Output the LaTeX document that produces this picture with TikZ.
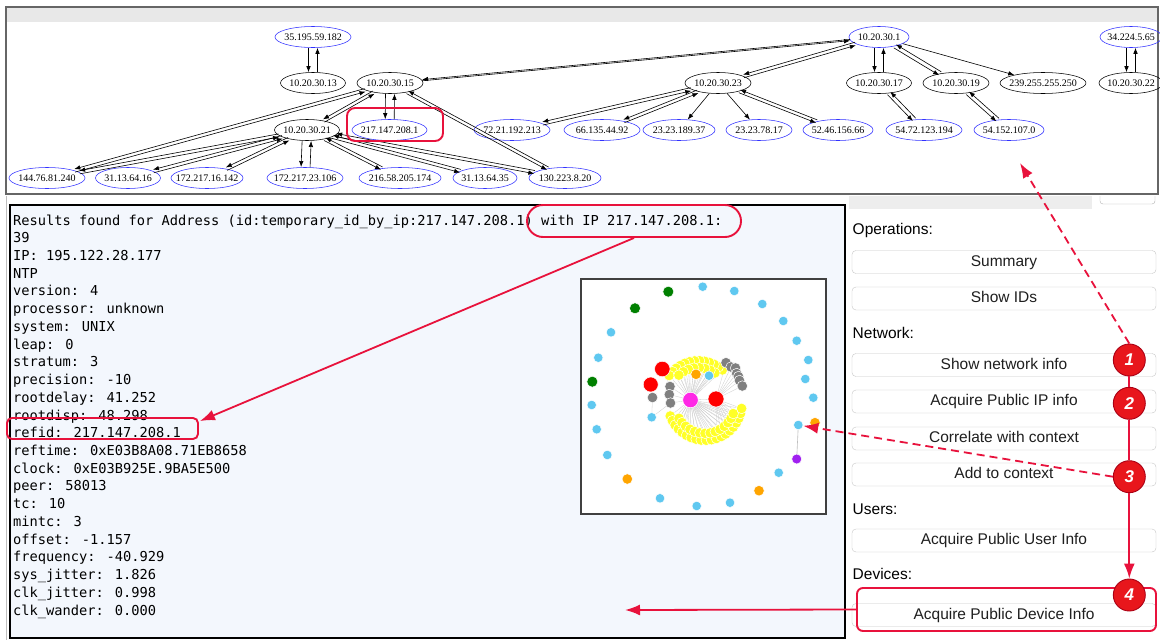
\documentclass[tikz,border=0pt]{standalone}
\usepackage{fontspec}
\setmainfont{Liberation Sans}
\newfontfamily\graphfont{Liberation Serif}
\newfontfamily\monofont{DejaVu Sans Mono}
\usetikzlibrary{arrows.meta,shapes.geometric,calc}
\pgfdeclarelayer{bg}
\pgfdeclarelayer{edges}
\pgfsetlayers{bg,edges,main}
\definecolor{hl}{RGB}{232,18,60}
\definecolor{gblue}{RGB}{50,50,255}
\definecolor{panelbg}{RGB}{243,247,253}
\definecolor{lbc}{RGB}{95,200,240}
\definecolor{grc}{RGB}{0,128,0}
\definecolor{orc}{RGB}{255,165,0}
\definecolor{puc}{RGB}{160,32,240}
\definecolor{yec}{RGB}{255,255,40}
\definecolor{gyc}{RGB}{128,128,128}
\definecolor{rdc}{RGB}{255,0,0}
\definecolor{mgc}{RGB}{255,40,230}
\definecolor{badgefill}{RGB}{232,22,28}
\definecolor{badgeedge}{RGB}{170,0,20}
\newcommand\bidir[3][1.6]{%
  \draw[gedge] let \p1=($(#3)-(#2)$), \n1={atan2(\y1,\x1)}, \n2={\n1+180}, \n3={\n1-90} in
    ([shift={(\n3:#1pt)}]#2.\n1) -- ([shift={(\n3:#1pt)}]#3.\n2);
  \draw[gedge] let \p1=($(#3)-(#2)$), \n1={atan2(\y1,\x1)}, \n2={\n1+180}, \n3={\n1+90} in
    ([shift={(\n3:#1pt)}]#3.\n2) -- ([shift={(\n3:#1pt)}]#2.\n1);
}
\begin{document}
\begin{tikzpicture}[x=1pt,y=-1pt,
  gk/.style={ellipse,draw=black,line width=0.55pt,inner xsep=-12pt,inner ysep=-6pt,minimum height=21pt,minimum width=#1,font=\graphfont\fontsize{10}{10}\selectfont},
  gb/.style={gk={#1},draw=gblue},
  gedge/.style={-{Latex[length=6pt,width=4.5pt]},line width=0.6pt},
  mono/.style={anchor=base west,inner sep=0pt,font=\monofont\fontsize{13.7}{16}\selectfont},
  lbl/.style={anchor=base west,inner sep=0pt,font=\fontsize{15.5}{18}\selectfont},
  btn/.style={draw=black!22,fill=white,rounded corners=4pt,minimum width=304pt,minimum height=23pt,inner sep=0pt,text height=11.3pt,text depth=3.3pt,font=\fontsize{15.5}{18}\selectfont,text=black!88},
  badge/.style={circle,fill=badgefill,draw=badgeedge,line width=0.9pt,minimum size=32pt,inner sep=0pt,text=white,font=\bfseries\itshape\fontsize{17}{17}\selectfont},
  hlbox/.style={draw=hl,line width=1.9pt},
  redline/.style={draw=hl,line width=1.8pt},
  redarrow/.style={redline,-{Latex[length=15pt,width=11pt]}},
  reddash/.style={redarrow,dash pattern=on 8pt off 5pt},
  dot/.style 2 args={circle,inner sep=0pt,minimum size=#1,fill=#2,draw=white,line width=0.5pt},
  fan/.style={draw=black!20,line width=0.3pt}
]
\useasboundingbox (0,0) rectangle (1160,640);
% ---------- panels ----------
\begin{pgfonlayer}{bg}
  \fill[white] (0,0) rectangle (1160,640);
  \fill[black!9] (6,8) rectangle (1158,22);
  \draw[black!60,line width=1.3pt] (6,7) rectangle (1158,194);
  \draw[black!25,line width=0.8pt] (6,196) -- (6,640);
  \fill[black!7] (849,196) rectangle (1092,209);
  \draw[black!30,rounded corners=3pt] (1100,196) -- (1100,204) -- (1155,204) -- (1155,196);
  \filldraw[fill=panelbg,draw=black,line width=1.6pt] (10,205) rectangle (845,638);
  \filldraw[fill=white,draw=black!75,line width=1.2pt] (581,279) rectangle (826,514);
\end{pgfonlayer}
% ---------- top graph ----------
\node[gb=76] (n35) at (313,37) {35.195.59.182};
\node[gk=65] (n13) at (313,83) {10.20.30.13};
\node[gk=66] (n15) at (390,83) {10.20.30.15};
\node[gb=75] (n217) at (389.5,130) {217.147.208.1};
\node[gk=65] (n21) at (307,130) {10.20.30.21};
\node[gb=76] (n144) at (47,178) {144.76.81.240};
\node[gb=65] (n3116) at (128,178) {31.13.64.16};
\node[gb=72] (n16142) at (207,178) {172.217.16.142};
\node[gb=76] (n23106) at (305,178) {172.217.23.106};
\node[gb=82] (n216) at (400,178) {216.58.205.174};
\node[gb=64] (n3135) at (485,178) {31.13.64.35};
\node[gb=72] (n130) at (565,178) {130.223.8.20};
\node[gk=66] (n23) at (718,83) {10.20.30.23};
\node[gb=76] (n72) at (512,130) {72.21.192.213};
\node[gb=76] (n66) at (602,130) {66.135.44.92};
\node[gb=72] (n189) at (679,130) {23.23.189.37};
\node[gb=66] (n78) at (759,130) {23.23.78.17};
\node[gb=70] (n52) at (838,130) {52.46.156.66};
\node[gb=60] (n1) at (879,37) {10.20.30.1};
\node[gk=65] (n17) at (879,83) {10.20.30.17};
\node[gk=66] (n19) at (956,83) {10.20.30.19};
\node[gk=86] (n239) at (1043,83) {239.255.255.250};
\node[gb=76] (n54a) at (924,130) {54.72.123.194};
\node[gb=70] (n54b) at (1009,130) {54.152.107.0};
\node[gb=62] (n34) at (1131,37) {34.224.5.65};
\node[gk=64] (n22) at (1131,83) {10.20.30.22};
\bidir[4.5]{n35}{n13}
\bidir[4.5]{n15}{n217}
\bidir[4.5]{n21}{n23106}
\bidir[4.5]{n1}{n17}
\bidir[4.5]{n34}{n22}
\bidir[0.6]{n1}{n15}
\bidir{n15}{n21}
\bidir{n15}{n144}
\bidir{n15}{n130}
\bidir{n21}{n144}
\bidir{n21}{n3116}
\bidir{n21}{n16142}
\bidir{n21}{n216}
\bidir{n21}{n3135}
\bidir{n21}{n130}
\bidir{n1}{n23}
\bidir{n23}{n72}
\bidir{n23}{n66}
\bidir{n23}{n52}
\bidir[2]{n1}{n19}
\bidir[2]{n17}{n54a}
\bidir[2]{n19}{n54b}
\draw[gedge] (n1) -- (n239);
\draw[gedge] (n23) -- (n189);
\draw[gedge] (n23) -- (n78);
\node[hlbox,rounded corners=8pt,minimum width=96pt,minimum height=33pt] (box217) at (395,124.5) {};
% ---------- text panel ----------
\foreach \t [count=\k from 0] in {
 {Results found for Address (id:temporary\_id\_by\_ip:217.147.208.1) with IP 217.147.208.1:},
 {39},{IP: 195.122.28.177},{NTP},{version: 4},{processor: unknown},{system: UNIX},
 {leap: 0},{stratum: 3},{precision: -10},{rootdelay: 41.252},{rootdisp: 48.298},
 {refid: 217.147.208.1},{reftime: 0xE03B8A08.71EB8658},{clock: 0xE03B925E.9BA5E500},
 {peer: 58013},{tc: 10},{mintc: 3},{offset: -1.157},{frequency: -40.929},
 {sys\_jitter: 1.826},{clk\_jitter: 0.998},{clk\_wander: 0.000}}
  \node[mono] (t\k) at (13,{225+17.73*\k}) {\t};
\node[hlbox,rounded corners=16pt,minimum width=214pt,minimum height=32pt] (ipbox) at (634,221) {};
\node[hlbox,rounded corners=5pt,minimum width=191pt,minimum height=21pt] (refbox) at (102.5,428.5) {};
% ---------- inset graph ----------
\foreach \px/\py/\cc/\ss [count=\i] in {
 668.3/291.7/grc/11pt, 702.7/286.7/lbc/9.5pt, 734.3/291/lbc/9.5pt, 762.3/304/lbc/9.5pt,
 783.3/321/lbc/9.5pt, 796.7/340.7/lbc/9.5pt, 808.3/360/lbc/9.5pt, 805.3/379/lbc/9.5pt,
 813.3/397.7/lbc/9.5pt, 815/422.7/orc/10.5pt, 798.3/425/lbc/9.5pt, 796.7/459/puc/10pt,
 778.7/472.7/lbc/9.5pt, 759/490.7/orc/10.5pt, 730/502.7/lbc/9.5pt, 696.7/506/lbc/9.5pt,
 660/498.3/lbc/9.5pt, 627.3/479/orc/10.5pt, 607.3/455/lbc/9.5pt, 596.7/429.3/lbc/9.5pt,
 591.7/405/lbc/9.5pt, 592.3/381.7/grc/11pt, 598.3/357.7/lbc/9.5pt, 611/332.3/lbc/9.5pt,
 635/308.3/grc/11pt}
  \node[dot={\ss}{\cc}] (o\i) at (\px,\py) {};
\foreach \a [count=\i] in {48,56,...,144}
  \node[dot={10.5pt}{yec}] (yt\i) at ($(698.3,396.7)+(\a:36pt)$) {};
\foreach \a [count=\i] in {55,66,...,132}
  \node[dot={10.5pt}{yec}] (yu\i) at ($(698.3,396.7)+(\a:29pt)$) {};
\foreach \a [count=\i] in {-160,-152,...,-8}
  \node[dot={10.5pt}{yec}] (yb\i) at ($(705,403.3)+(\a:37pt)$) {};
\foreach \a [count=\i] in {-150,-140,...,-20}
  \node[dot={10.5pt}{yec}] (yc\i) at ($(705,403.3)+(\a:30pt)$) {};
\foreach \px/\py [count=\i] in {726/362.7, 731/367, 735.5/368, 736.7/373.5, 738.5/376.5, 739.5/380.5, 742.3/386}
  \node[dot={10.5pt}{gyc}] (gg\i) at (\px,\py) {};
\node[dot={10.5pt}{gyc}] (g1) at (670,386.5) {};
\node[dot={10.5pt}{gyc}] (g2) at (669.3,394.5) {};
\node[dot={10.5pt}{gyc}] (g3) at (652.5,397.5) {};
\node[dot={10.5pt}{gyc}] (g4) at (670.5,403) {};
\node[dot={9.5pt}{lbc}] (lb1) at (651.7,417.3) {};
\node[dot={10.5pt}{orc}] (or1) at (696,374.3) {};
\node[dot={9.5pt}{lbc}] (lb2) at (709,375.7) {};
\node[dot={15.5pt}{rdc}] (r1) at (662.3,369) {};
\node[dot={15pt}{rdc}] (r2) at (650.7,384.5) {};
\node[dot={15.5pt}{mgc}] (mag) at (690.5,400) {};
\node[dot={16pt}{rdc}] (r3) at (716,399) {};
\begin{pgfonlayer}{edges}
  \foreach \i in {1,...,13} \draw[fan] (mag) -- (yt\i);
  \foreach \i in {1,...,8} \draw[fan] (mag) -- (yu\i);
  \foreach \i in {1,...,20} \draw[fan] (mag) -- (yb\i);
  \foreach \i in {1,...,14} \draw[fan] (mag) -- (yc\i);
  \foreach \i in {1,...,7} \draw[fan] (r3) -- (gg\i);
  \foreach \i in {12,...,20} \draw[fan] (r3) -- (yb\i);
  \foreach \n in {g1,g2,g4,or1,lb2,r3} \draw[fan] (mag) -- (\n);
  \draw[fan] (g3) -- (lb1);
  \draw[fan] (lb1) -- (g4);
  \draw[fan] (r1) -- (g1);
  \draw[fan] (r2) -- (g3);
  \draw[black!25,line width=0.6pt] (o11) -- (o12);
\end{pgfonlayer}
% ---------- right panel ----------
\node[lbl] (lops) at (852.5,234) {Operations:};
\node[btn] (bsum) at (1004,262) {Summary};
\node[btn] (bids) at (1004,298.5) {Show IDs};
\node[lbl] (lnet) at (852.5,338) {Network:};
\node[btn] (bnet) at (1004,365) {Show network info};
\node[btn] (bip) at (1004,401.5) {Acquire Public IP info};
\node[btn] (bcor) at (1004,438.5) {Correlate with context};
\node[btn] (badd) at (1004,474.5) {Add to context};
\node[lbl] (lusr) at (852.5,514) {Users:};
\node[btn] (busr) at (1004,540.5) {Acquire Public User Info};
\node[lbl] (ldev) at (852.5,579) {Devices:};
\node[btn] (bdev) at (1004,615) {Acquire Public Device Info};
\node[hlbox,rounded corners=6pt,minimum width=299pt,minimum height=43pt] (devbox) at (1006.5,609.5) {};
% ---------- badges and red connectors ----------
\node[badge] (c1) at (1129.3,360) {1};
\node[badge] (c2) at (1129.3,403.3) {2};
\node[badge] (c3) at (1129.3,476.7) {3};
\node[badge] (c4) at (1129.3,595) {4};
\coordinate (topend) at (1020,163);
\coordinate (textend) at (625,610);
\draw[redline] (c1) -- (c2);
\draw[redline] (c2) -- (c3);
\draw[redarrow] (c3) -- (c4);
\draw[reddash] (c1.north) -- (topend);
\draw[reddash] (c3.west) -- (o11);
\draw[redarrow] (devbox.west) -- (textend);
\draw[redarrow] (ipbox.south) -- ($(refbox.north east)+(1,4)$);
\end{tikzpicture}
\end{document}
